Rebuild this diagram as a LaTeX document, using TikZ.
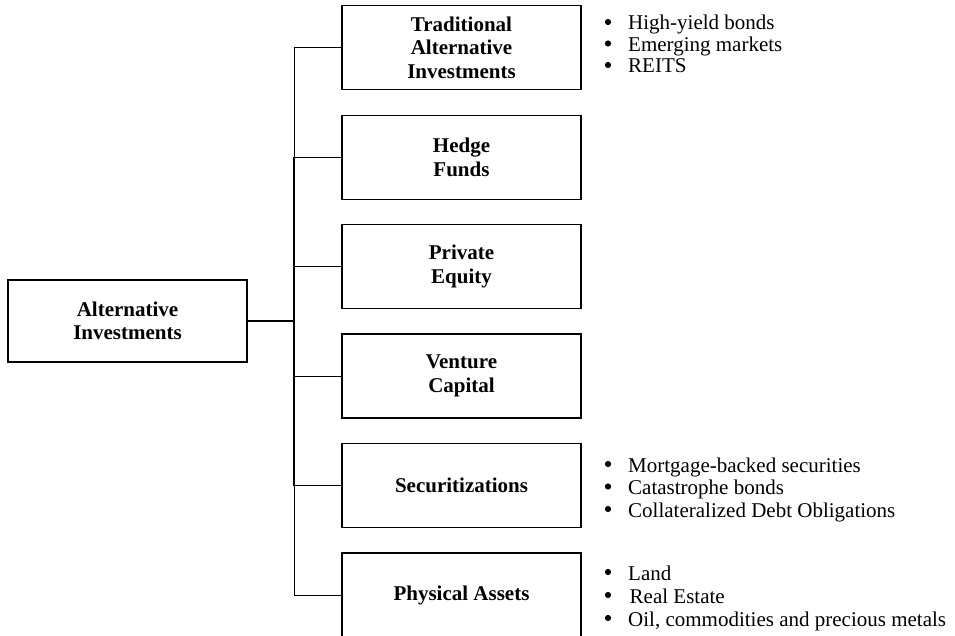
\documentclass[tikz,border=0pt]{standalone}
\usepackage{fontspec}
\setmainfont{Liberation Serif}
\begin{document}
\begin{tikzpicture}[x=1pt,y=-1pt,
  box/.style={draw,line width=1.2pt,minimum width=239pt,minimum height=84pt,inner sep=0pt,align=center,font=\fontsize{21}{23.5}\selectfont\bfseries},
  item/.style={anchor=base west,inner sep=0pt,text height=14pt,text depth=4.5pt,font=\fontsize{21}{23}\selectfont},
  thinline/.style={line width=1pt},
  medline/.style={line width=1.6pt},
  thickline/.style={line width=2.6pt}]
\useasboundingbox (0,0) rectangle (955,636);
% main box
\node[box,minimum height=82pt] (main) at (127.5,321) {Alternative\\Investments};
% child boxes
\node[box] (t1) at (461.5,47.5) {Traditional\\Alternative\\Investments};
\node[box] (t2) at (461.5,157.5) {Hedge\\Funds};
\node[box] (t3) at (461.5,266.5) {Private\\Equity};
\node[box] (t4) at (461.5,376) {Venture\\Capital};
\node[box] (t5) at (461.5,485.5) {Securitizations};
\node[box] (t6) at (461.5,595) {Physical Assets};
% trunk junctions
\coordinate (j1) at (294,47.5);
\coordinate (j2) at (294,157.5);
\coordinate (j3) at (294,266.5);
\coordinate (j4) at (294,376);
\coordinate (j5) at (294,485.5);
\coordinate (j6) at (294,595);
\coordinate (jm) at (294,321);
% trunk
\draw[thinline] (j1) -- (j2);
\draw[medline] (j2) -- (j3);
\draw[thickline] (j3) -- (j5);
\draw[thinline] (j5) -- (j6);
\draw[thickline] (main.east) -- (jm);
% branches
\foreach \i in {1,...,6} \draw[thinline] (j\i) -- (t\i.west);
% bullet lists
\node[item] (a1) at (628,30) {High-yield bonds};
\node[item] (a2) at (628,51.5) {Emerging markets};
\node[item] (a3) at (628,73) {REITS};
\node[item] (b1) at (628,472) {Mortgage-backed securities};
\node[item] (b2) at (628,494.5) {Catastrophe bonds};
\node[item] (b3) at (628,517) {Collateralized Debt Obligations};
\node[item] (c1) at (628,580) {Land};
\node[item] (c2) at (629.5,603) {Real Estate};
\node[item] (c3) at (628,626) {Oil, commodities and precious metals};
% bullets
\foreach \n in {a1,a2,a3,b1,b2,b3,c1,c3}
  \fill ([shift={(-20,-8)}]\n.base west) circle (3.1pt);
\fill ([shift={(-21.5,-8)}]c2.base west) circle (3.1pt);
\end{tikzpicture}
\end{document}
